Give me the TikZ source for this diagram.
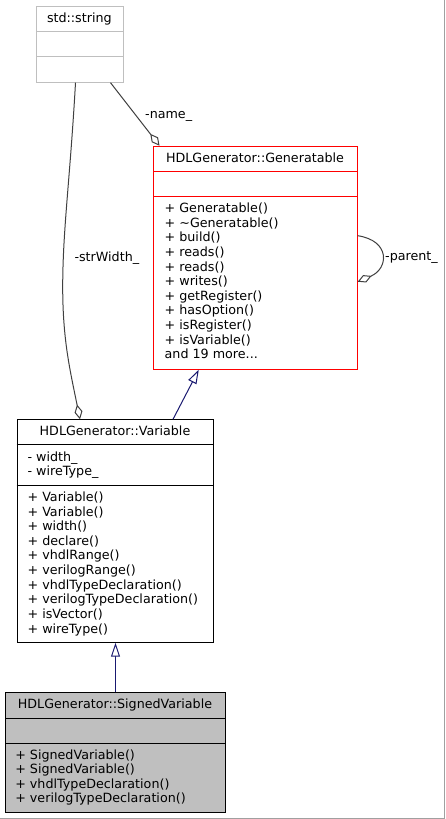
\documentclass[tikz,border=0pt]{standalone}
\usepackage{fontspec}
\setmainfont{DejaVu Sans}
\usetikzlibrary{arrows.meta}
\definecolor{edgegray}{HTML}{404040}
\definecolor{inhblue}{HTML}{191970}
\definecolor{rootgray}{HTML}{BFBFBF}
\definecolor{pagegray}{HTML}{A0A0A0}

\begin{document}
\begin{tikzpicture}[x=1pt,y=-1pt,
        txt/.style={font=\fontsize{12.7pt}{14.6pt}\selectfont, inner sep=0pt},
        mem/.style={txt, anchor=base west},
        ttl/.style={txt, anchor=base},
        cls/.style={draw, line width=1pt, inner sep=0pt, anchor=north west},
        agg/.style={draw=edgegray, line width=1pt,
                        -{Diamond[open,fill=white,length=15pt,width=8pt]}},
        inh/.style={draw=inhblue, line width=1pt,
                        -{Triangle[open,fill=white,length=14pt,width=9pt]}}]
    \useasboundingbox (0,0) rectangle (445,819);
    \draw[pagegray] (444.5,0) -- (444.5,818.5) -- (0,818.5);

    % classes
    \node[cls, draw=rootgray, minimum width=86.7pt, minimum height=76pt] (str) at (36,5.7) {};
    \node[cls, draw=red, minimum width=203.4pt, minimum height=223pt] (gen) at (153.3,145.7) {};
    \node[cls, minimum width=196.6pt, minimum height=222.4pt] (var) at (16.7,419.3) {};
    \node[cls, fill=rootgray, minimum width=220pt, minimum height=120pt] (svar) at (5,692.3) {};
    \foreach \d in {26,51} {
        \draw[rootgray, line width=1pt] ([yshift=-\d*1pt]str.north west) -- ([yshift=-\d*1pt]str.north east);
        \draw[red, line width=1pt] ([yshift=-\d*1pt]gen.north west) -- ([yshift=-\d*1pt]gen.north east);
        \draw[line width=1pt] ([yshift=-\d*1pt]svar.north west) -- ([yshift=-\d*1pt]svar.north east);
    }
    \foreach \d in {25,65.7}
        \draw[line width=1pt] ([yshift=-\d*1pt]var.north west) -- ([yshift=-\d*1pt]var.north east);

    % titles
    \node[ttl] (str-t) at (79.35,22.3) {std::string};
    \node[ttl] (gen-t) at (255,162) {HDLGenerator::Generatable};
    \node[ttl] (var-t) at (115,435.3) {HDLGenerator::Variable};
    \node[ttl] (svar-t) at (115,708.7) {HDLGenerator::SignedVariable};

    % members
    \foreach \t [count=\i] in {+ Generatable(), + \textasciitilde Generatable(), + build(),
            + reads(), + reads(), + writes(), + getRegister(), + hasOption(),
            + isRegister(), + isVariable(), and 19 more.{}.{}.}
        \node[mem] (gen-m\i) at (164.5,{212.7+14.6*(\i-1)}) {\t};
    \foreach \t [count=\i] in {- width\_, - wireType\_}
        \node[mem] (var-a\i) at (27.4,{461+14*(\i-1)}) {\t};
    \foreach \t [count=\i] in {+ Variable(), + Variable(), + width(), + declare(),
            + vhdlRange(), + verilogRange(), + vhdlTypeDeclaration(),
            + verilogTypeDeclaration(), + isVector(), + wireType()}
        \node[mem] (var-m\i) at (27.4,{501.4+14.63*(\i-1)}) {\t};
    \foreach \t [count=\i] in {+ SignedVariable(), + SignedVariable(),
            + vhdlTypeDeclaration(), + verilogTypeDeclaration()}
        \node[mem] (svar-m\i) at (15.1,{759+14.5*(\i-1)}) {\t};

    % relations
    \coordinate (bend) at (62.7,287);
    \draw[agg] ([xshift=30.65pt]str.south) -- ([xshift=6.2pt]gen.north west);
    \draw[agg] ([xshift=-4.35pt]str.south) .. controls (70,180) and (62.7,230) .. (bend)
        .. controls (62.7,340) and (70,370) .. ([xshift=-35.5pt]var.north);
    \draw[agg] ([yshift=22pt]gen.east) .. controls +(33,5) and +(31,-13) .. ([yshift=-24pt]gen.east);
    \draw[inh] ([xshift=57.5pt]var.north) -- ([xshift=-56.7pt]gen.south);
    \draw[inh] (svar.north) -- (var.south);

    \node[mem] (lname) at (145,118.3) {-name\_};
    \node[mem] (lstrw) at (74.3,261.7) {-strWidth\_};
    \node[mem] (lparent) at (385,260.5) {-parent\_};
\end{tikzpicture}
\end{document}
